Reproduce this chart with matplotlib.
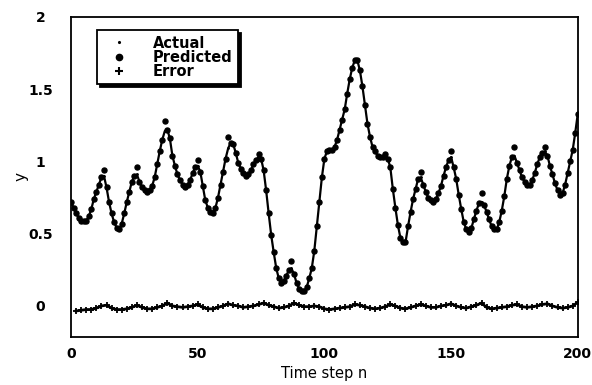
import matplotlib

matplotlib.use("Agg")
import matplotlib.pyplot as plt
import numpy as np
from matplotlib.lines import Line2D

# actual series, one value per time step n = 0..200
actual = [
    0.72, 0.68, 0.64, 0.61, 0.59, 0.585, 0.59, 0.62, 0.67, 0.74,
    0.79, 0.84, 0.89, 0.90, 0.82, 0.72, 0.64, 0.58, 0.54, 0.53,
    0.57, 0.64, 0.72, 0.79, 0.86, 0.90, 0.91, 0.86, 0.82, 0.80,
    0.79, 0.80, 0.83, 0.89, 0.98, 1.07, 1.15, 1.21, 1.22, 1.16,
    1.04, 0.97, 0.91, 0.87, 0.84, 0.82, 0.84, 0.87, 0.92, 0.96,
    0.97, 0.93, 0.83, 0.73, 0.68, 0.65, 0.645, 0.68, 0.75, 0.84,
    0.93, 1.02, 1.09, 1.13, 1.12, 1.06, 0.99, 0.95, 0.92, 0.90,
    0.91, 0.94, 0.98, 1.01, 1.03, 1.02, 0.94, 0.80, 0.64, 0.49,
    0.37, 0.26, 0.19, 0.16, 0.17, 0.21, 0.25, 0.26, 0.22, 0.16,
    0.12, 0.10, 0.10, 0.13, 0.19, 0.26, 0.38, 0.55, 0.72, 0.89,
    1.02, 1.07, 1.08, 1.08, 1.10, 1.15, 1.22, 1.29, 1.36, 1.47,
    1.57, 1.65, 1.70, 1.70, 1.63, 1.52, 1.39, 1.26, 1.17, 1.10,
    1.07, 1.04, 1.03, 1.03, 1.05, 1.02, 0.96, 0.81, 0.68, 0.56,
    0.47, 0.44, 0.44, 0.55, 0.65, 0.74, 0.81, 0.88, 0.89, 0.84,
    0.79, 0.75, 0.73, 0.72, 0.74, 0.78, 0.83, 0.90, 0.96, 1.01,
    1.03, 0.96, 0.88, 0.77, 0.67, 0.58, 0.53, 0.51, 0.54, 0.60,
    0.66, 0.71, 0.72, 0.70, 0.65, 0.60, 0.55, 0.53, 0.53, 0.58,
    0.66, 0.76, 0.88, 0.97, 1.03, 1.04, 0.99, 0.94, 0.89, 0.86,
    0.84, 0.84, 0.87, 0.92, 0.98, 1.03, 1.06, 1.07, 1.04, 0.97,
    0.91, 0.85, 0.80, 0.77, 0.78, 0.84, 0.92, 1.00, 1.08, 1.20,
    1.33,
]

# predicted matches actual except at these steps (overshoot at peaks)
pred_steps = [13, 26, 37, 50, 62, 74, 87, 138, 150, 162, 175, 187]
pred_values = [0.94, 0.96, 1.28, 1.01, 1.17, 1.05, 0.31, 0.93, 1.07, 0.78, 1.10, 1.10]

# error series, every second step from n = 2
error = [
    -0.035, -0.03, -0.025, -0.025, -0.015, 0.0, 0.005, -0.015, -0.025, -0.025,
    -0.02, -0.01, 0.005, -0.01, -0.02, -0.02, -0.01, 0.0, 0.02, 0.0,
    -0.005, -0.01, -0.005, 0.0, 0.01, -0.01, -0.02, -0.02, -0.01, 0.0,
    0.015, 0.005, 0.0, -0.01, -0.005, 0.0, 0.01, 0.02, 0.005, -0.005,
    -0.015, -0.01, 0.0, 0.02, 0.005, -0.005, -0.005, 0.0, -0.005, -0.02,
    -0.025, -0.02, -0.015, -0.01, -0.005, 0.01, 0.005, -0.005, -0.015, -0.02,
    -0.015, -0.005, 0.01, 0.0, -0.015, -0.02, -0.01, 0.0, 0.01, 0.0,
    -0.01, -0.01, 0.0, 0.005, 0.015, 0.0, -0.01, -0.015, -0.005, 0.005,
    0.02, -0.01, -0.02, -0.015, -0.01, -0.005, 0.005, 0.01, -0.005, -0.01,
    -0.005, 0.0, 0.01, 0.015, 0.0, -0.01, -0.015, -0.01, 0.0, 0.025,
]

x_ticks = [0, 50, 100, 150, 200]
y_ticks = [0, 0.5, 1, 1.5, 2]
y_tick_labels = ["0", "0.5", "1", "1.5", "2"]

steps = np.arange(len(actual))
predicted = np.array(actual, dtype=float)
predicted[pred_steps] = pred_values
error_steps = np.arange(2, 2 + 2 * len(error), 2)

plt.rcParams["font.family"] = ["DejaVu Sans"]

fig = plt.figure(figsize=(5.92, 3.85), dpi=100)
ax = fig.add_axes([0.12, 0.1247, 0.856, 0.8312])

ax.plot(steps, actual, color="black", linewidth=1.6, marker=".", markersize=2)
ax.plot(steps, predicted, linestyle="none", marker="o", markersize=3.6, color="black")
ax.plot(error_steps, error, color="black", linewidth=2.0, marker="+",
        markersize=4.5, markeredgewidth=1.3)

ax.set_xlim(0, 200)
ax.set_ylim(-0.215, 2.0)
ax.set_xticks(x_ticks)
ax.set_yticks(y_ticks)
ax.set_yticklabels(y_tick_labels)
ax.tick_params(length=0, labelsize=10)
ax.tick_params(axis="x", pad=7)
ax.tick_params(axis="y", pad=22)
for label in ax.get_yticklabels():
    label.set_horizontalalignment("center")
for label in ax.get_xticklabels() + ax.get_yticklabels():
    label.set_fontweight("bold")
for spine in ax.spines.values():
    spine.set_linewidth(1.3)

ax.set_xlabel("Time step n", fontsize=10.5, labelpad=4)
ax.set_ylabel("y", fontsize=11, labelpad=0)

handles = [
    Line2D([], [], linestyle="none", marker=".", markersize=2.5, color="black"),
    Line2D([], [], linestyle="none", marker="o", markersize=4.5, color="black"),
    Line2D([], [], linestyle="none", marker="+", markersize=5.5, markeredgewidth=1.5, color="black"),
]
leg = ax.legend(
    handles, ["Actual", "Predicted", "Error"],
    loc="upper left", bbox_to_anchor=(0.051, 0.958), borderaxespad=0,
    fancybox=False, shadow={"color": "black", "alpha": 1.0},
    edgecolor="black", framealpha=1.0,
    labelspacing=-0.05, handletextpad=1.1, borderpad=0.35,
    handlelength=2.4, prop={"weight": "bold", "size": 10.5},
)
leg.get_frame().set_linewidth(1.3)

fig.savefig("out.png", dpi=100)
